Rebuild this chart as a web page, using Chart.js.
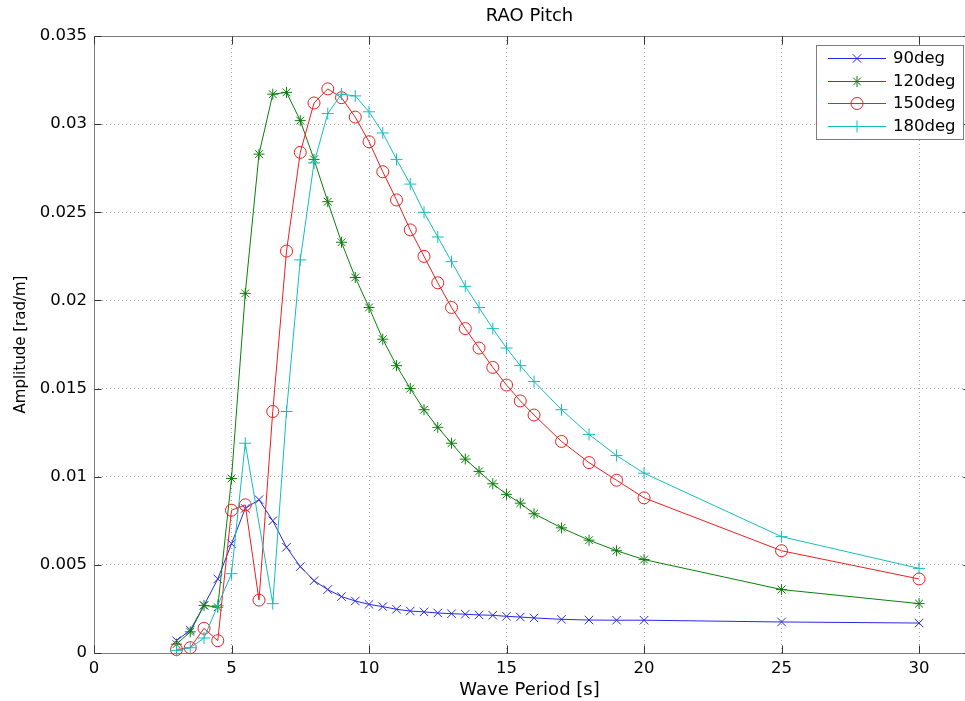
<!DOCTYPE html>
<html>
<head>
<meta charset="utf-8">
<script src="https://cdn.jsdelivr.net/npm/chart.js@4.4.1/dist/chart.umd.min.js"></script>
<style>
html,body{margin:0;padding:0;background:#ffffff;}
canvas{display:block;}
</style>
</head>
<body>
<canvas id="c" width="965" height="701"></canvas>
<script>
// ---------- data ----------
const periods = [3,3.5,4,4.5,5,5.5,6,6.5,7,7.5,8,8.5,9,9.5,10,10.5,11,11.5,12,12.5,13,13.5,14,14.5,15,15.5,16,17,18,19,20,25,30];

const deg90 = [0.0007,0.0013,0.0027,0.0042,0.0062,0.0082,0.0087,0.0075,0.0060,0.0049,0.0041,0.0036,0.0032,
  0.00295,0.00276,0.00263,0.00248,0.00238,0.00233,0.00227,0.00223,0.0022,0.00216,0.00214,0.00208,0.00204,0.00199,
  0.00191,0.00187,0.00186,0.00186,0.00176,0.0017];

const deg120 = [0.0005,0.0012,0.0027,0.0026,0.0099,0.0204,0.0283,0.0317,0.0318,0.0302,0.0280,0.0256,0.0233,
  0.0213,0.0196,0.0178,0.0163,0.0150,0.0138,0.0128,0.0119,0.0110,0.0103,0.0096,0.0090,0.0085,0.0079,
  0.0071,0.0064,0.0058,0.0053,0.0036,0.0028];

const deg150 = [0.0002,0.0003,0.0014,0.0007,0.0081,0.0084,0.0030,0.0137,0.0228,0.0284,0.0312,0.0320,0.0315,
  0.0304,0.0290,0.0273,0.0257,0.0240,0.0225,0.0210,0.0196,0.0184,0.0173,0.0162,0.0152,0.0143,0.0135,
  0.0120,0.0108,0.0098,0.0088,0.0058,0.0042];

// no marker at 6 s in the 180deg series
const deg180 = [0.00015,0.0003,0.00085,0.0027,0.0045,0.0119,null,0.0028,0.0137,0.0223,0.0278,0.0306,0.0317,
  0.0316,0.0307,0.0295,0.0280,0.0266,0.0250,0.0236,0.0222,0.0208,0.0196,0.0184,0.0173,0.0163,0.0154,
  0.0138,0.0124,0.0112,0.0102,0.0066,0.0048];

const seriesNames = ['90deg','120deg','150deg','180deg'];
const xTickValues = [0,5,10,15,20,25,30];
const xTickLabels = ['0','5','10','15','20','25','30'];
const yTickValues = [0,0.005,0.01,0.015,0.02,0.025,0.03,0.035];
const yTickLabels = ['0','0.005','0.01','0.015','0.02','0.025','0.03','0.035'];
const titleText = 'RAO Pitch';
const xTitle = 'Wave Period [s]';
const yTitle = 'Amplitude [rad/m]';

// ---------- styling ----------
const FONT = "'DejaVu Sans', 'Liberation Sans', sans-serif";
const X_MAX = 31.67;          // axis range visible inside the 965 px wide picture
const X_BOX_RIGHT = 31.85;    // where the (cropped) right edge of the axes box lies
const seriesValues = [deg90, deg120, deg150, deg180];
const colors = ['rgb(40,40,235)', 'rgb(10,128,10)', 'rgb(238,30,30)', 'rgb(20,190,190)'];
const markers = ['crossRot', 'star', 'circle', 'cross'];
const markerSizes = [6, 5.5, 6, 6];

const datasets = seriesNames.map((name, i) => ({
  label: name,
  data: periods.map((p, j) => ({x: p, y: seriesValues[i][j]})),
  borderColor: colors[i],
  backgroundColor: colors[i],
  borderWidth: 1,
  tension: 0,
  fill: false,
  spanGaps: true,
  clip: false,
  pointStyle: markers[i],
  pointRadius: markerSizes[i],
  pointHoverRadius: markerSizes[i],
  pointBorderWidth: 1,
  pointBorderColor: colors[i],
  pointBackgroundColor: 'rgba(0,0,0,0)',
  order: 3 - i
}));

function drawMarker(ctx, style, r, x, y) {
  if (Chart.helpers && Chart.helpers.drawPoint) {
    Chart.helpers.drawPoint(ctx, {pointStyle: style, radius: r, borderWidth: 1, rotation: 0}, x, y);
    return;
  }
  ctx.beginPath();
  if (style === 'circle') ctx.arc(x, y, r, 0, Math.PI * 2);
  ctx.stroke();
}

// axes box + inward tick marks (MATLAB style)
const boxPlugin = {
  id: 'matlabBox',
  beforeDatasetsDraw(chart) {
    const {ctx, chartArea: a, scales} = chart;
    const L = Math.round(a.left) + 0.5, T = Math.round(a.top) + 0.5, B = Math.round(a.bottom) + 0.5;
    const R = Math.round(scales.x.getPixelForValue(X_BOX_RIGHT)) + 0.5;
    ctx.save();
    ctx.strokeStyle = '#7d7d7d';
    ctx.lineWidth = 1;
    ctx.beginPath();
    ctx.moveTo(R, T); ctx.lineTo(L, T); ctx.lineTo(L, B); ctx.lineTo(R, B); ctx.lineTo(R, T);
    ctx.stroke();
    ctx.strokeStyle = '#333333';
    ctx.beginPath();
    scales.x.ticks.forEach(t => {
      const px = Math.round(scales.x.getPixelForValue(t.value)) + 0.5;
      ctx.moveTo(px, B); ctx.lineTo(px, B - 8);
      ctx.moveTo(px, T); ctx.lineTo(px, T + 8);
    });
    scales.y.ticks.forEach(t => {
      const py = Math.round(scales.y.getPixelForValue(t.value)) + 0.5;
      ctx.moveTo(L, py); ctx.lineTo(L + 7, py);
      ctx.moveTo(R, py); ctx.lineTo(R - 7, py);
    });
    ctx.stroke();
    ctx.restore();
  }
};

// MATLAB-like legend (line + marker + label)
const legendPlugin = {
  id: 'matlabLegend',
  afterDraw(chart) {
    const {ctx} = chart;
    const bx = 816.5, by = 45.5, bw = 147, bh = 94;
    ctx.save();
    ctx.fillStyle = '#ffffff';
    ctx.fillRect(bx, by, bw, bh);
    ctx.strokeStyle = '#7d7d7d';
    ctx.lineWidth = 1;
    ctx.strokeRect(bx, by, bw, bh);
    chart.data.datasets.forEach((ds, i) => {
      const y = Math.round(58 + i * 22.6) + 0.5;
      ctx.strokeStyle = ds.borderColor;
      ctx.fillStyle = 'rgba(0,0,0,0)';
      ctx.lineWidth = 1;
      ctx.beginPath();
      ctx.moveTo(828, y); ctx.lineTo(886, y);
      ctx.stroke();
      drawMarker(ctx, ds.pointStyle, ds.pointRadius, 857, y);
      ctx.fillStyle = '#000000';
      ctx.font = '16.5px ' + FONT;
      ctx.textAlign = 'left';
      ctx.textBaseline = 'middle';
      ctx.fillText(ds.label, 893, y + 0.5);
    });
    ctx.restore();
  }
};

new Chart(document.getElementById('c').getContext('2d'), {
  type: 'line',
  data: {datasets},
  options: {
    responsive: false,
    animation: false,
    devicePixelRatio: 1,
    layout: {autoPadding: false, padding: {left: 0, right: 0, top: 0, bottom: 0}},
    plugins: {
      legend: {display: false},
      tooltip: {enabled: false},
      title: {
        display: true, text: titleText, fullSize: false, color: '#000',
        font: {family: FONT, size: 18, weight: 'normal'},
        padding: {top: 5.7, bottom: 8.7}
      }
    },
    scales: {
      x: {
        type: 'linear', min: 0, max: X_MAX,
        afterBuildTicks: s => { s.ticks = xTickValues.map(v => ({value: v})); },
        afterFit: s => { s.height = 48; s.paddingLeft = 0; s.paddingRight = 0; },
        ticks: {
          callback: (v, i) => xTickLabels[i],
          color: '#000', font: {family: FONT, size: 16.5}, padding: 6,
          maxRotation: 0, autoSkip: false
        },
        grid: {color: '#a6a6a6', lineWidth: 1, drawTicks: false},
        border: {display: false, dash: [1, 3]},
        title: {
          display: true, text: xTitle, color: '#000',
          font: {family: FONT, size: 18}, padding: {top: 0, bottom: 0.2}
        }
      },
      y: {
        type: 'linear', min: 0, max: 0.035,
        afterBuildTicks: s => { s.ticks = yTickValues.map(v => ({value: v})); },
        afterFit: s => { s.width = 94; },
        ticks: {
          callback: (v, i) => yTickLabels[i],
          color: '#000', font: {family: FONT, size: 16.5}, padding: 7, autoSkip: false
        },
        grid: {color: '#a6a6a6', lineWidth: 1, drawTicks: false},
        border: {display: false, dash: [1, 3]},
        title: {
          display: true, text: yTitle, color: '#000',
          font: {family: FONT, size: 15}, padding: {top: 12, bottom: 0}
        }
      }
    }
  },
  plugins: [boxPlugin, legendPlugin]
});
</script>
</body>
</html>
